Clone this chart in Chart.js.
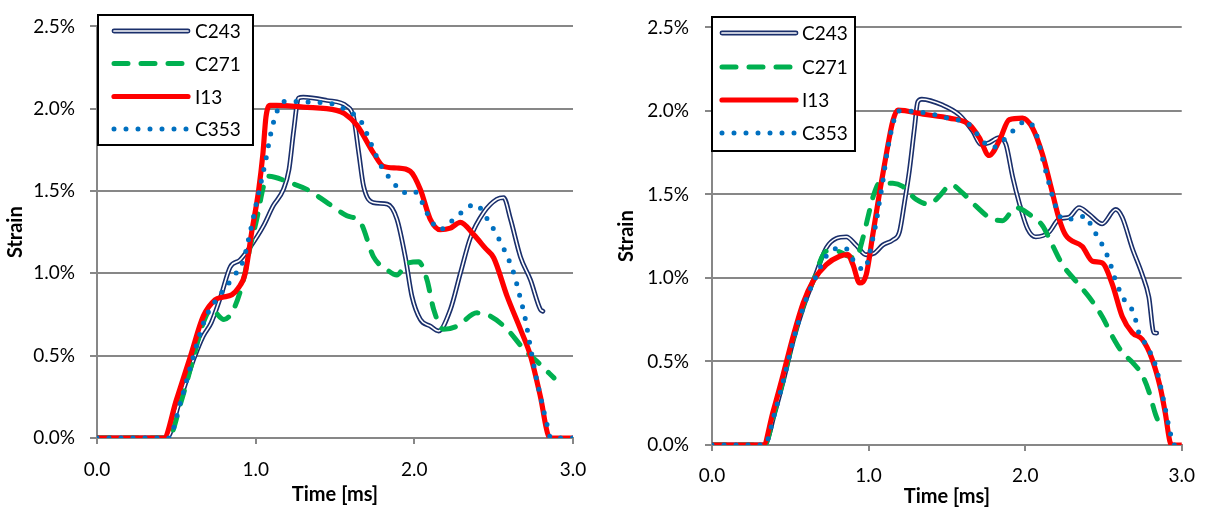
<!DOCTYPE html>
<html><head><meta charset="utf-8">
<script src="https://cdn.jsdelivr.net/npm/chart.js@4.4.1/dist/chart.umd.min.js"></script>
<style>
html,body{margin:0;padding:0;background:#fff;}
#wrap{position:relative;width:1208px;height:510px;overflow:hidden;}
canvas{position:absolute;top:0;}
#c1{left:0}
#c2{left:604px}
</style></head><body>
<div id="wrap"><canvas id="c1" width="604" height="510"></canvas><canvas id="c2" width="604" height="510"></canvas></div>
<script>
const seriesNames = ['C243', 'C271', 'I13', 'C353'];
const xTickValues = [0, 1, 2, 3];
const yTickValues = [0, 0.5, 1, 1.5, 2, 2.5];
const xTitle = 'Time [ms]';
const yTitle = 'Strain';

// ---- Left chart ----
const leftC243T = [0, 0.44, 0.52, 0.61, 0.67, 0.72, 0.78, 0.84, 0.90, 0.965, 1.05, 1.11, 1.175, 1.21, 1.24, 1.27, 1.30, 1.45, 1.575, 1.617, 1.65, 1.68, 1.74, 1.83, 1.89, 1.943, 1.985, 2.038, 2.10, 2.153, 2.227, 2.29, 2.353, 2.437, 2.52, 2.563, 2.606, 2.669, 2.732, 2.795, 2.81];
const leftC243V = [0, 0, 0.22, 0.48, 0.62, 0.70, 0.86, 1.04, 1.08, 1.16, 1.29, 1.41, 1.51, 1.63, 1.87, 2.065, 2.07, 2.05, 2.015, 1.95, 1.73, 1.53, 1.43, 1.42, 1.33, 1.10, 0.86, 0.72, 0.68, 0.65, 0.78, 1.0, 1.215, 1.37, 1.45, 1.46, 1.33, 1.10, 0.96, 0.78, 0.77];
const leftC271T = [0, 0.45, 0.53, 0.60, 0.67, 0.72, 0.80, 0.86, 0.923, 0.965, 1.007, 1.05, 1.08, 1.218, 1.323, 1.45, 1.575, 1.66, 1.743, 1.83, 1.89, 1.954, 2.027, 2.08, 2.122, 2.185, 2.27, 2.395, 2.48, 2.585, 2.69, 2.795, 2.88];
const leftC271V = [0, 0, 0.22, 0.46, 0.70, 0.78, 0.72, 0.78, 0.96, 1.16, 1.33, 1.53, 1.59, 1.55, 1.51, 1.43, 1.35, 1.31, 1.10, 1.02, 0.99, 1.06, 1.07, 0.96, 0.78, 0.66, 0.68, 0.76, 0.74, 0.66, 0.54, 0.445, 0.365];
const leftI13T = [0, 0.42, 0.50, 0.59, 0.67, 0.745, 0.79, 0.85, 0.89, 0.934, 0.975, 1.018, 1.045, 1.065, 1.09, 1.13, 1.30, 1.51, 1.56, 1.638, 1.743, 1.806, 1.89, 1.975, 2.038, 2.10, 2.164, 2.227, 2.29, 2.374, 2.45, 2.50, 2.585, 2.669, 2.732, 2.795, 2.847, 2.87, 3.0];
const leftI13V = [0, 0, 0.23, 0.50, 0.74, 0.84, 0.855, 0.87, 0.91, 1.0, 1.25, 1.5, 1.72, 1.95, 2.02, 2.02, 2.01, 1.99, 1.97, 1.90, 1.73, 1.65, 1.64, 1.62, 1.51, 1.33, 1.265, 1.275, 1.31, 1.235, 1.15, 1.095, 0.86, 0.66, 0.50, 0.25, 0.01, 0, 0];
const leftC353T = [0, 0.45, 0.53, 0.60, 0.68, 0.776, 0.86, 0.923, 0.965, 1.01, 1.06, 1.10, 1.144, 1.19, 1.35, 1.52, 1.57, 1.66, 1.722, 1.786, 1.87, 1.93, 1.997, 2.038, 2.10, 2.16, 2.227, 2.31, 2.385, 2.46, 2.54, 2.627, 2.66, 2.70, 2.73, 2.77, 2.80, 2.837, 2.86, 3.0];
const leftC353V = [0, 0, 0.23, 0.47, 0.72, 0.87, 0.98, 1.08, 1.25, 1.45, 1.67, 1.87, 2.005, 2.045, 2.04, 2.02, 1.99, 1.93, 1.80, 1.66, 1.55, 1.49, 1.50, 1.45, 1.33, 1.265, 1.31, 1.38, 1.42, 1.33, 1.195, 1.0, 0.88, 0.72, 0.56, 0.36, 0.23, 0.08, 0, 0];

// ---- Right chart ----
const rightC243T = [0, 0.335, 0.40, 0.46, 0.52, 0.585, 0.65, 0.73, 0.794, 0.858, 0.92, 0.985, 1.038, 1.091, 1.155, 1.197, 1.229, 1.261, 1.293, 1.314, 1.34, 1.473, 1.58, 1.665, 1.718, 1.77, 1.834, 1.877, 1.92, 1.962, 2.015, 2.068, 2.153, 2.217, 2.28, 2.344, 2.408, 2.492, 2.578, 2.62, 2.684, 2.747, 2.79, 2.822, 2.84];
const rightC243V = [0, 0, 0.19, 0.40, 0.63, 0.83, 0.99, 1.18, 1.237, 1.246, 1.197, 1.139, 1.149, 1.197, 1.227, 1.275, 1.45, 1.645, 1.898, 2.054, 2.07, 2.035, 1.976, 1.879, 1.80, 1.81, 1.84, 1.80, 1.606, 1.45, 1.295, 1.246, 1.275, 1.353, 1.363, 1.421, 1.382, 1.324, 1.41, 1.363, 1.178, 1.022, 0.886, 0.672, 0.67];
const rightC271T = [0, 0.335, 0.40, 0.46, 0.52, 0.585, 0.65, 0.73, 0.80, 0.87, 0.92, 0.964, 1.0, 1.03, 1.07, 1.155, 1.218, 1.304, 1.389, 1.452, 1.527, 1.6, 1.686, 1.77, 1.855, 1.94, 2.025, 2.11, 2.174, 2.238, 2.322, 2.408, 2.492, 2.556, 2.62, 2.684, 2.747, 2.79, 2.832, 2.875];
const rightC271V = [0, 0, 0.20, 0.41, 0.64, 0.84, 0.99, 1.16, 1.16, 1.13, 1.12, 1.24, 1.38, 1.49, 1.567, 1.567, 1.548, 1.47, 1.441, 1.49, 1.558, 1.509, 1.43, 1.363, 1.343, 1.421, 1.382, 1.314, 1.197, 1.08, 0.983, 0.886, 0.769, 0.652, 0.555, 0.496, 0.419, 0.321, 0.185, 0.088];
const rightI13T = [0, 0.327, 0.39, 0.454, 0.518, 0.582, 0.645, 0.73, 0.815, 0.868, 0.90, 0.943, 0.985, 1.027, 1.07, 1.113, 1.155, 1.187, 1.35, 1.516, 1.643, 1.707, 1.77, 1.834, 1.898, 1.983, 2.047, 2.11, 2.164, 2.217, 2.259, 2.365, 2.43, 2.492, 2.556, 2.62, 2.684, 2.747, 2.81, 2.864, 2.896, 2.928, 2.945, 3.0];
const rightI13V = [0, 0, 0.20, 0.42, 0.65, 0.85, 0.98, 1.08, 1.13, 1.14, 1.08, 0.97, 1.02, 1.26, 1.51, 1.74, 1.94, 2.005, 1.98, 1.957, 1.918, 1.84, 1.733, 1.82, 1.947, 1.957, 1.898, 1.742, 1.548, 1.353, 1.256, 1.188, 1.10, 1.09, 0.964, 0.769, 0.672, 0.633, 0.516, 0.34, 0.185, 0.01, 0, 0];
const rightC353T = [0, 0.335, 0.40, 0.46, 0.52, 0.585, 0.65, 0.757, 0.847, 0.92, 0.975, 1.0, 1.03, 1.05, 1.07, 1.09, 1.113, 1.155, 1.19, 1.35, 1.516, 1.643, 1.728, 1.792, 1.855, 1.92, 2.004, 2.06, 2.13, 2.195, 2.238, 2.32, 2.386, 2.43, 2.47, 2.535, 2.578, 2.64, 2.694, 2.726, 2.769, 2.832, 2.885, 2.928, 2.95, 3.0];
const rightC353V = [0, 0, 0.19, 0.40, 0.63, 0.83, 0.98, 1.16, 1.18, 1.08, 1.05, 1.12, 1.25, 1.34, 1.46, 1.57, 1.72, 1.92, 2.0, 1.99, 1.955, 1.918, 1.82, 1.78, 1.82, 1.879, 1.937, 1.89, 1.645, 1.43, 1.353, 1.353, 1.372, 1.295, 1.237, 1.11, 0.983, 0.857, 0.789, 0.672, 0.604, 0.477, 0.263, 0.068, 0, 0];

const NAVY = '#1a2f6b', GREEN = '#00b050', RED = '#ff0000', BLUE = '#0070c0', GRID = '#878787';
const FONT = "Lato, 'Open Sans', sans-serif";

const pts = (t, v) => t.map((x, i) => ({x: x, y: v[i]}));

const styles = {
  C243: {color: NAVY, width: 4.8, dash: [], inner: true},
  C271: {color: GREEN, width: 5, dash: [14, 13]},
  I13: {color: RED, width: 5.2, dash: []},
  C353: {color: BLUE, width: 5, dash: [0, 12]}
};

function legendPlugin(L) {
  return {
    id: 'boxLegend',
    afterDatasetsDraw(chart) {
      const c = chart.ctx;
      c.save();
      c.fillStyle = '#fff';
      c.fillRect(L.bx, L.by, L.bw, L.bh);
      c.strokeStyle = '#000';
      c.lineWidth = 2;
      c.strokeRect(L.bx, L.by, L.bw, L.bh);
      seriesNames.forEach((name, i) => {
        const s = styles[name];
        const y = L.rows[i];
        c.lineCap = 'round';
        c.setLineDash(s.dash);
        c.strokeStyle = s.color;
        c.lineWidth = s.width;
        c.beginPath(); c.moveTo(L.sx0, y); c.lineTo(L.sx1, y); c.stroke();
        if (s.inner) {
          c.strokeStyle = '#fff'; c.lineWidth = 1.7;
          c.beginPath(); c.moveTo(L.sx0, y); c.lineTo(L.sx1, y); c.stroke();
        }
        c.setLineDash([]);
        c.fillStyle = '#000';
        c.font = '19px ' + FONT;
        c.textBaseline = 'middle';
        c.textAlign = 'left';
        c.fillText(name, L.tx, y + 1);
      });
      c.restore();
    }
  };
}

function build(id, series, L) {
  const base = {pointRadius: 0, pointHoverRadius: 0, fill: false, borderCapStyle: 'round', borderJoinStyle: 'round', cubicInterpolationMode: 'monotone'};
  const ds = [
    {label: 'C243', data: series.C243, borderColor: NAVY, borderWidth: styles.C243.width, order: 5},
    {label: 'C243 inner', data: series.C243, borderColor: '#ffffff', borderWidth: 1.6, order: 4},
    {label: 'C271', data: series.C271, borderColor: GREEN, borderWidth: styles.C271.width, borderDash: styles.C271.dash, order: 3},
    {label: 'I13', data: series.I13, borderColor: RED, borderWidth: styles.I13.width, order: 2},
    {label: 'C353', data: series.C353, borderColor: BLUE, borderWidth: styles.C353.width, borderDash: styles.C353.dash, order: 1}
  ].map(d => Object.assign({}, base, d));

  return new Chart(document.getElementById(id), {
    type: 'line',
    data: {datasets: ds},
    options: {
      responsive: false, animation: false, devicePixelRatio: 1, events: [],
      layout: {padding: {left: 0, right: L.padR, top: L.top, bottom: 0}},
      plugins: {legend: {display: false}, tooltip: {enabled: false}},
      scales: {
        x: {
          type: 'linear', min: 0, max: 3,
          afterBuildTicks: s => { s.ticks = xTickValues.map(v => ({value: v})); },
          afterFit: s => { s.height = L.xH; },
          grid: {drawOnChartArea: false, color: GRID, lineWidth: 2, tickLength: 6},
          border: {display: true, color: GRID, width: 2},
          ticks: {padding: L.xPad, color: '#000', font: {family: FONT, size: 19}, maxRotation: 0, autoSkip: false,
                  callback: v => Number(v).toFixed(1)},
          title: {display: true, text: xTitle, color: '#000', font: {family: FONT, size: 20, weight: 'bold'},
                  padding: {top: 0, bottom: L.xtPad}}
        },
        y: {
          type: 'linear', min: 0, max: 2.5,
          afterBuildTicks: s => { s.ticks = yTickValues.map(v => ({value: v})); },
          afterFit: s => { s.width = L.yW; },
          grid: {drawOnChartArea: true, color: GRID, lineWidth: 2, tickLength: 7},
          border: {display: true, color: GRID, width: 2},
          ticks: {padding: L.yPad, color: '#000', font: {family: FONT, size: 19}, autoSkip: false,
                  callback: v => Number(v).toFixed(1) + '%'},
          title: {display: true, text: yTitle, color: '#000', font: {family: FONT, size: 20, weight: 'bold'},
                  padding: {top: L.ytPad, bottom: 0}}
        }
      }
    },
    plugins: [legendPlugin(L)]
  });
}

build('c1', {
  C243: pts(leftC243T, leftC243V), C271: pts(leftC271T, leftC271V),
  I13: pts(leftI13T, leftI13V), C353: pts(leftC353T, leftC353V)
}, {padR: 31, top: 17, xH: 72, yW: 97, xPad: 14, xtPad: 3, yPad: 15, ytPad: 4,
    bx: 98, by: 15, bw: 155, bh: 130, sx0: 114, sx1: 188, tx: 195, rows: [31, 63.5, 96.5, 129]});

build('c2', {
  C243: pts(rightC243T, rightC243V), C271: pts(rightC271T, rightC271V),
  I13: pts(rightI13T, rightI13V), C353: pts(rightC353T, rightC353V)
}, {padR: 25, top: 17, xH: 65, yW: 108, xPad: 13, xtPad: 1, yPad: 16, ytPad: 11,
    bx: 108, by: 17, bw: 143, bh: 134, sx0: 118, sx1: 192, tx: 198, rows: [33, 67, 100, 133]});
</script>
</body></html>
